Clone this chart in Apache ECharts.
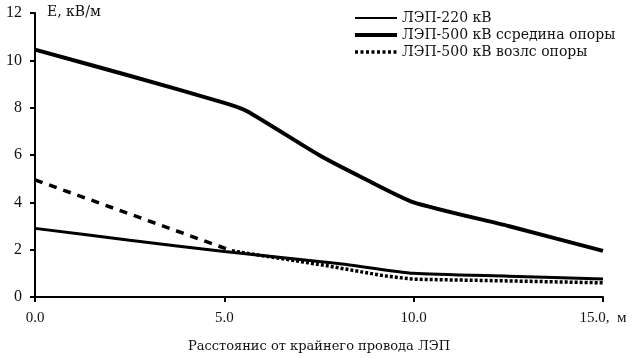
<!DOCTYPE html>
<html>
<head>
<meta charset="utf-8">
<script src="https://cdn.jsdelivr.net/npm/echarts@6/dist/echarts.min.js"></script>
<style>
    html, body { margin: 0; padding: 0; background: #fff; }
    #chart { width: 642px; height: 358px; }
</style>
</head>
<body>
<div id="chart"></div>
<script>
// значения (x - расстояние, м; y - E, кВ/м)
var line220 = [[0, 2.9], [2.5, 2.4], [5, 1.92], [8, 1.42], [10, 1.0], [12.5, 0.88], [15, 0.76]];
var line500mid = [[0, 10.45], [2.5, 9.35], [5, 8.2], [5.6, 7.85], [7.5, 6.0], [8.7, 5.0], [10, 4.0], [12.5, 3.0], [15, 1.95]];
var line500nearDash = [[0, 4.95], [5.2, 1.95]];
var line500near = [[5.2, 1.95], [7.6, 1.35], [9.2, 0.9], [10, 0.75], [12.5, 0.68], [15, 0.6]];
var xTicks = [0, 5, 10, 15];
var yTicks = [0, 2, 4, 6, 8, 10, 12];

var serif = 'Liberation Serif';
var wide = 'DejaVu Serif';
var chart = echarts.init(document.getElementById('chart'));

var option = {
    animation: false,
    grid: { left: 35, right: 39, top: 13, bottom: 59 },
    legend: {
        orient: 'vertical',
        left: 348,
        top: 6,
        itemWidth: 42,
        itemHeight: 10,
        itemGap: 3,
        itemStyle: { opacity: 0 },
        data: [
            { name: 'ЛЭП-220 кВ', lineStyle: { width: 2 } },
            { name: 'ЛЭП-500 кВ ссредина опоры', lineStyle: { width: 4 } },
            { name: 'ЛЭП-500 кВ возлс опоры', lineStyle: { width: 3.5, type: [3, 2.5] } }
        ],
        textStyle: { fontFamily: wide, fontSize: 14, color: '#111' }
    },
    xAxis: {
        type: 'value',
        min: 0,
        max: 15,
        interval: 5,
        axisLine: { lineStyle: { color: '#000', width: 2 } },
        axisTick: { length: 5, lineStyle: { color: '#000', width: 2 } },
        splitLine: { show: false },
        axisLabel: {
            fontFamily: serif,
            fontSize: 15,
            color: '#111',
            margin: 14,
            formatter: function (v) {
                if (xTicks.indexOf(v) < 0) return '';
                return v === 15 ? '15.0,  м' : v.toFixed(1);
            }
        },
        name: 'Расстоянис от крайнего провода ЛЭП',
        nameLocation: 'middle',
        nameGap: 43,
        nameTextStyle: { fontFamily: wide, fontSize: 13, color: '#111' }
    },
    yAxis: {
        type: 'value',
        min: 0,
        max: 12,
        interval: 2,
        axisLine: { show: true, lineStyle: { color: '#000', width: 2 } },
        axisTick: { show: true, length: 5, lineStyle: { color: '#000', width: 2 } },
        splitLine: { show: false },
        axisLabel: {
            fontFamily: serif,
            fontSize: 16,
            color: '#111',
            margin: 13,
            formatter: function (v) {
                return yTicks.indexOf(v) >= 0 ? String(v) : '';
            }
        }
    },
    graphic: [
        {
            type: 'text',
            left: 47,
            top: 5,
            style: { text: 'E, кВ/м', font: '14px "DejaVu Serif"', fill: '#111' }
        }
    ],
    series: [
        {
            name: 'ЛЭП-500 кВ возлс опоры',
            type: 'line',
            data: line500near,
            symbol: 'none',
            lineStyle: { color: '#000', width: 3.5, type: [3, 2] },
            itemStyle: { color: '#000' }
        },
        {
            name: 'dash',
            type: 'line',
            data: line500nearDash,
            symbol: 'none',
            lineStyle: { color: '#000', width: 3.5, type: [8, 7] }
        },
        {
            name: 'ЛЭП-220 кВ',
            type: 'line',
            data: line220,
            symbol: 'none',
            smooth: 0.2,
            lineStyle: { color: '#000', width: 3 },
            itemStyle: { color: '#000' }
        },
        {
            name: 'ЛЭП-500 кВ ссредина опоры',
            type: 'line',
            data: line500mid,
            symbol: 'none',
            smooth: 0.2,
            lineStyle: { color: '#000', width: 4 },
            itemStyle: { color: '#000' }
        }
    ]
};

chart.setOption(option);
</script>
</body>
</html>
